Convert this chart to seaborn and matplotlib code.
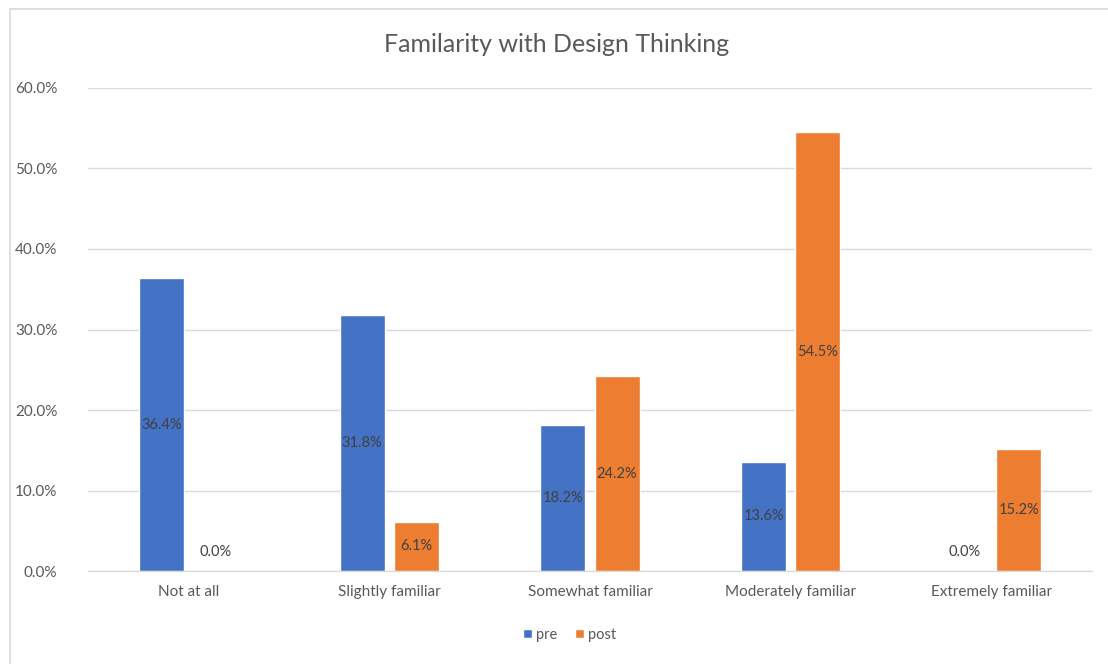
import pandas as pd
import matplotlib.pyplot as plt
import seaborn as sns
from matplotlib.patches import Rectangle
from matplotlib.ticker import PercentFormatter

# Survey data
categories = ["Not at all", "Slightly familiar", "Somewhat familiar",
              "Moderately familiar", "Extremely familiar"]
pre = [36.4, 31.8, 18.2, 13.6, 0.0]
post = [0.0, 6.1, 24.2, 54.5, 15.2]
series = ["pre", "post"]

df = pd.DataFrame({
    "category": categories * 2,
    "group": ["pre"] * len(categories) + ["post"] * len(categories),
    "value": pre + post,
})

sns.set_style("white")
plt.rcParams['font.family'] = ['Lato', 'DejaVu Sans']

fig = plt.figure(figsize=(11.08, 6.64), dpi=100)
ax = fig.add_axes([0.0794, 0.14, 0.9062, 0.7275])

sns.barplot(data=df, x="category", y="value", hue="group", hue_order=series,
            palette={"pre": "#4472C4", "post": "#ED7D31"},
            width=0.54, gap=0.17, ax=ax, saturation=1, legend=True)

ax.set_ylim(0, 60)
ax.set_yticks(range(0, 61, 10))
ax.yaxis.set_major_formatter(PercentFormatter(decimals=1))
ax.grid(axis="y", color="#D9D9D9", linewidth=1)
ax.set_axisbelow(True)
for s in ["top", "right", "left"]:
    ax.spines[s].set_visible(False)
ax.spines["bottom"].set_color("#D9D9D9")
ax.tick_params(axis="both", length=0, labelsize=11, colors="#595959", pad=10)
ax.tick_params(axis="y", pad=22)
ax.set_xlabel("")
ax.set_ylabel("")

# data labels in the middle of bars
for cont in ax.containers:
    for bar in cont:
        h = bar.get_height()
        xc = bar.get_x() + bar.get_width() / 2
        if h == 0:
            ax.annotate(f"{h:.1f}%", (xc, 0), xytext=(0, 14), textcoords="offset points",
                        ha="center", va="center", fontsize=10.5, color="#404040")
        else:
            ax.annotate(f"{h:.1f}%", (xc, h / 2), ha="center", va="center",
                        fontsize=10.5, color="#404040")

fig.text(0.502, 1 - 45 / 664, "Familarity with Design Thinking", fontsize=18,
         color="#595959", ha="center", va="center")

leg = ax.legend(loc="upper center", bbox_to_anchor=(0.48, -0.09), ncol=2, frameon=False,
                fontsize=10.5, handlelength=0.6, handleheight=0.6, columnspacing=1.2,
                handletextpad=0.3)
for t in leg.get_texts():
    t.set_color("#595959")

fig.patches.append(Rectangle((10 / 1108, -0.1), 1.2, 1 - 9 / 664 + 0.1,
                             transform=fig.transFigure, fill=False,
                             edgecolor="#D9D9D9", linewidth=1.2))

fig.savefig("out.png", dpi=100)
